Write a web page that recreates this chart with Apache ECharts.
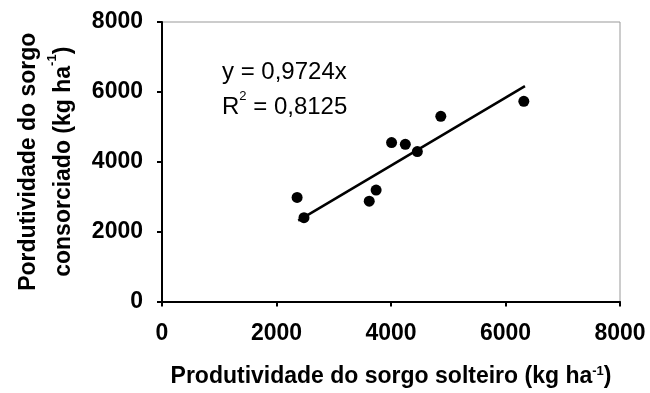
<!DOCTYPE html>
<html>
<head>
    <meta charset="utf-8">
    <title>Produtividade do sorgo</title>
    <script src="https://cdn.jsdelivr.net/npm/echarts@6/dist/echarts.min.js"></script>
    <style>
        body { margin: 0; background: #fff; }
        #main { width: 650px; height: 393px; }
    </style>
</head>
<body>
    <div id="main"></div>
    <script>
        // pontos: sorgo solteiro (x) vs consorciado (y)
        var solteiro = [2360, 2480, 3620, 3740, 4010, 4250, 4460, 4870, 6320];
        var consorciado = [2980, 2400, 2870, 3190, 4550, 4500, 4290, 5300, 5730];
        // linha de tendencia y = 0,9724x
        var slope = 0.9724;
        var trendX = [2380, 6340];

        var pontos = solteiro.map(function (v, i) { return [v, consorciado[i]]; });
        var tendencia = trendX.map(function (v) { return [v, v * slope]; });

        var fonte = 'Liberation Sans, Arial, sans-serif';
        var sup = { fontSize: 13, fontWeight: 'bold', verticalAlign: 'top', padding: [0, 0, 11, 0], fontFamily: fonte, color: '#000' };
        var myChart = echarts.init(document.getElementById('main'));
        myChart.setOption({
            backgroundColor: '#fff',
            animation: false,
            grid: {
                left: 162, right: 30, top: 22, bottom: 90,
                show: true, borderColor: '#999', borderWidth: 1
            },
            xAxis: {
                type: 'value', min: 0, max: 8000, interval: 2000,
                name: 'Produtividade do sorgo solteiro (kg ha{s|-1})',
                nameLocation: 'middle', nameGap: 63,
                nameTextStyle: {
                    fontFamily: fonte, fontWeight: 'bold', fontSize: 23, color: '#000',
                    rich: { s: sup }
                },
                axisLine: { show: true, lineStyle: { color: '#000', width: 2 } },
                axisTick: { show: true, inside: false, length: 5, lineStyle: { color: '#000', width: 2 } },
                axisLabel: {
                    margin: 21, fontFamily: fonte, fontWeight: 'bold', fontSize: 23, color: '#000',
                    formatter: function (v) { return String(v); }
                },
                splitLine: { show: false }
            },
            yAxis: {
                type: 'value', min: 0, max: 8000, interval: 2000,
                name: 'Pordutividade do sorgo\nconsorciado (kg ha{s|-1})',
                nameLocation: 'middle', nameGap: 81, nameRotate: 90,
                nameTextStyle: {
                    fontFamily: fonte, fontWeight: 'bold', fontSize: 23, color: '#000', lineHeight: 35,
                    rich: { s: sup }
                },
                axisLine: { show: true, lineStyle: { color: '#000', width: 2 } },
                axisTick: { show: true, inside: false, length: 5, lineStyle: { color: '#000', width: 2 } },
                axisLabel: {
                    margin: 19, fontFamily: fonte, fontWeight: 'bold', fontSize: 23, color: '#000',
                    formatter: function (v) { return String(v); }
                },
                splitLine: { show: false }
            },
            graphic: [{
                type: 'text', left: 222, top: 55,
                style: {
                    text: 'y = 0,9724x\n{n|R}{s|2}{n| = 0,8125}',
                    fontFamily: fonte, fontSize: 24, fill: '#000', lineHeight: 35,
                    rich: {
                        n: { fontFamily: fonte, fontSize: 24, fill: '#000' },
                        s: { fontFamily: fonte, fontSize: 13, fill: '#000', verticalAlign: 'top', padding: [0, 0, 11, 0] }
                    }
                }
            }],
            series: [{
                name: 'pontos',
                type: 'scatter',
                symbol: 'circle',
                symbolSize: 11,
                itemStyle: { color: '#000', opacity: 1 },
                data: pontos
            }, {
                name: 'tendencia',
                type: 'line',
                showSymbol: false,
                lineStyle: { color: '#000', width: 2.5 },
                data: tendencia
            }]
        });
    </script>
</body>
</html>
